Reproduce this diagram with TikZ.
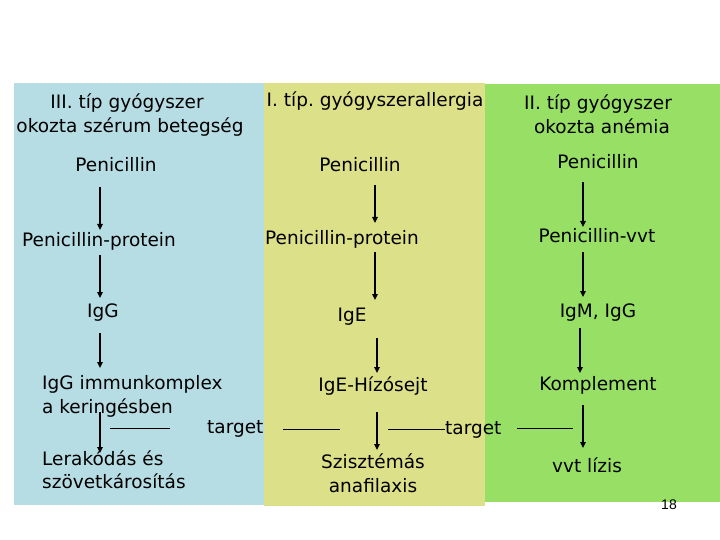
\documentclass[tikz,border=0pt]{standalone}
\usepackage{fontspec}
\setmainfont{DejaVu Sans}
\newfontfamily\pagenofont{Liberation Sans}
\usetikzlibrary{arrows.meta,calc}
\definecolor{pblue}{RGB}{183,221,228}
\definecolor{pyellow}{RGB}{220,224,136}
\definecolor{pgreen}{RGB}{152,224,101}
\frenchspacing
\begin{document}
\begin{tikzpicture}[x=1pt,y=-1pt,
  txt/.style={inner sep=0pt, anchor=base, font=\fontsize{18.5}{22}\selectfont},
  ltxt/.style={txt, anchor=base west},
  arr/.style={line width=1.5pt, -{Triangle[length=6pt,width=5.5pt]}},
  ln/.style={line width=0.8pt}]
\useasboundingbox (0,0) rectangle (720,540);
% panels
\fill[pblue]   (14,83) rectangle (264,505);
\fill[pyellow] (264,83) rectangle (485,506);
\fill[pgreen]  (485,84) rectangle (720,502);

% blue column (type III)
\node[txt] (bta) at (127,109) {III. típ gyógyszer};
\node[txt] (btb) at (130,133) {okozta szérum betegség};
\node[txt] (b1) at (116,172) {Penicillin};
\node[txt] (b2) at (99,247) {Penicillin-protein};
\node[txt] (b3) at (103,317) {IgG};
\node[ltxt] (b4) at (42,389) {IgG immunkomplex};
\node[ltxt] (b5) at (42,413) {a keringésben};
\node[ltxt] (tb) at (207,433) {target};
\node[ltxt] (b6) at (42,465) {Lerakódás és};
\node[ltxt] (b7) at (42,488) {szövetkárosítás};

% yellow column (type I)
\node[txt] (yt) at (375,107) {I. típ. gyógyszerallergia};
\node[txt] (y1) at (360,172) {Penicillin};
\node[txt] (y2) at (342,244) {Penicillin-protein};
\node[txt] (y3) at (352,321) {IgE};
\node[txt] (y4) at (373,391) {IgE-Hízósejt};
\node[ltxt] (ty) at (445,434) {target};
\node[txt] (y5) at (373,468) {Szisztémás};
\node[txt] (y6) at (373,492) {anafilaxis};

% green column (type II)
\node[txt] (gta) at (598,110) {II. típ gyógyszer};
\node[txt] (gtb) at (602,134) {okozta anémia};
\node[txt] (g1) at (598,169) {Penicillin};
\node[txt] (g2) at (597,242) {Penicillin-vvt};
\node[txt] (g3) at (598,317) {IgM, IgG};
\node[txt] (g4) at (598,390) {Komplement};
\node[txt] (g5) at (587,472) {vvt lízis};

% page number
\node[inner sep=0pt, anchor=base, font=\pagenofont\fontsize{14}{16}\selectfont] (pg) at (669,509) {18};

% arrows blue
\draw[arr] ($(b1.base -| 100,0)+(0,15)$) -- ($(b2.base -| 100,0)+(0,-17)$);
\draw[arr] ($(b2.base -| 100,0)+(0,8)$) -- ($(b3.base -| 100,0)+(0,-19)$);
\draw[arr] ($(b3.base -| 100,0)+(0,16)$) -- ($(b4.base -| 100,0)+(0,-21)$);
\draw[arr] ($(b5.base -| 100,0)+(0,-1)$) -- ($(b6.base -| 100,0)+(0,-12)$);
% arrows yellow
\draw[arr] ($(y1.base -| 375,0)+(0,13)$) -- ($(y2.base -| 375,0)+(0,-21)$);
\draw[arr] ($(y2.base -| 375,0)+(0,8)$) -- ($(y3.base -| 375,0)+(0,-21)$);
\draw[arr] ($(y3.base -| 377,0)+(0,17)$) -- ($(y4.base -| 377,0)+(0,-18)$);
\draw[arr] ($(y4.base -| 377,0)+(0,21)$) -- ($(y5.base -| 377,0)+(0,-18)$);
% arrows green
\draw[arr] ($(g1.base -| 583,0)+(0,13)$) -- ($(g2.base -| 583,0)+(0,-15)$);
\draw[arr] ($(g2.base -| 583,0)+(0,10)$) -- ($(g3.base -| 583,0)+(0,-20)$);
\draw[arr] ($(g3.base -| 580,0)+(0,11)$) -- ($(g4.base -| 580,0)+(0,-17)$);
\draw[arr] ($(g4.base -| 583,0)+(0,15)$) -- ($(g5.base -| 583,0)+(0,-24)$);

% target lines
\draw[ln] ($(tb.base west)+(-97,-5)$) -- ($(tb.base west)+(-37,-5)$);
\draw[ln] ($(ty.base west)+(-162,-5)$) -- ($(ty.base west)+(-105,-5)$);
\draw[ln] ($(ty.base west)+(-57,-5)$) -- ($(ty.base west)+(0,-5)$);
\draw[ln] ($(ty.base west)+(72,-6)$) -- ($(ty.base west)+(128,-6)$);
\end{tikzpicture}
\end{document}
